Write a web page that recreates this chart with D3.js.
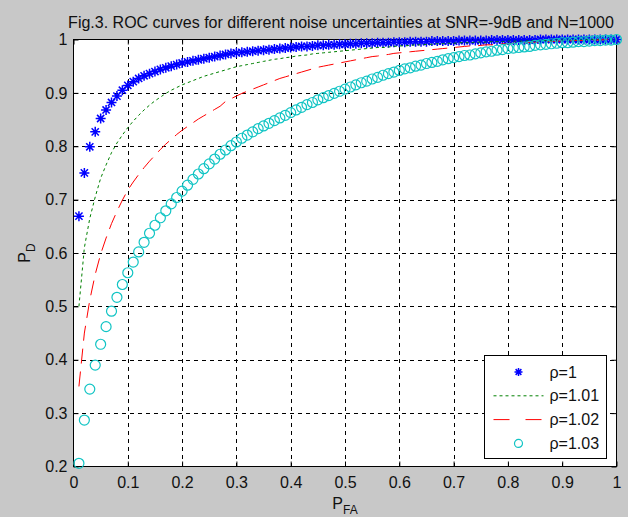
<!DOCTYPE html>
<html>
<head>
<meta charset="utf-8">
<script src="https://cdn.jsdelivr.net/npm/d3@7"></script>
<style>
  body { margin: 0; background: #c8c8c8; }
  svg { display: block; font-family: "Liberation Sans", Arial, sans-serif; }
</style>
</head>
<body>
<div id="chart"></div>
<script>
// false alarm probability, the x of every point
var pfa = [0.01,0.02,0.03,0.04,0.05,0.06,0.07,0.08,0.09,0.10,
  0.11,0.12,0.13,0.14,0.15,0.16,0.17,0.18,0.19,0.20,
  0.21,0.22,0.23,0.24,0.25,0.26,0.27,0.28,0.29,0.30,
  0.31,0.32,0.33,0.34,0.35,0.36,0.37,0.38,0.39,0.40,
  0.41,0.42,0.43,0.44,0.45,0.46,0.47,0.48,0.49,0.50,
  0.51,0.52,0.53,0.54,0.55,0.56,0.57,0.58,0.59,0.60,
  0.61,0.62,0.63,0.64,0.65,0.66,0.67,0.68,0.69,0.70,
  0.71,0.72,0.73,0.74,0.75,0.76,0.77,0.78,0.79,0.80,
  0.81,0.82,0.83,0.84,0.85,0.86,0.87,0.88,0.89,0.90,
  0.91,0.92,0.93,0.94,0.95,0.96,0.97,0.98,0.99,1.00];

// detection probability, rho = 1
var pdRho100 = [0.669,0.750,0.799,0.827,0.852,0.868,0.882,0.894,0.905,0.914,
  0.921,0.927,0.932,0.936,0.940,0.944,0.947,0.950,0.953,0.956,
  0.958,0.960,0.962,0.964,0.966,0.968,0.970,0.972,0.974,0.975,
  0.976,0.977,0.978,0.979,0.980,0.981,0.982,0.983,0.984,0.985,
  0.986,0.987,0.987,0.988,0.989,0.989,0.990,0.990,0.991,0.991,
  0.992,0.992,0.993,0.993,0.993,0.994,0.994,0.994,0.995,0.995,
  0.995,0.996,0.996,0.996,0.996,0.997,0.997,0.997,0.997,0.997,
  0.998,0.998,0.998,0.998,0.998,0.998,0.999,0.999,0.999,0.999,
  0.999,0.999,0.999,0.999,0.999,1.000,1.000,1.000,1.000,1.000,
  1.000,1.000,1.000,1.000,1.000,1.000,1.000,1.000,1.000,1.000];

// rho = 1.01
var pdRho101 = [0.500,0.610,0.665,0.705,0.740,0.765,0.788,0.806,0.821,0.835,
  0.847,0.858,0.868,0.877,0.885,0.892,0.899,0.905,0.910,0.915,
  0.919,0.923,0.927,0.931,0.934,0.937,0.940,0.943,0.946,0.949,
  0.951,0.953,0.955,0.957,0.959,0.961,0.963,0.964,0.966,0.967,
  0.969,0.970,0.971,0.973,0.974,0.975,0.976,0.977,0.978,0.979,
  0.980,0.981,0.982,0.983,0.984,0.985,0.985,0.986,0.987,0.988,
  0.988,0.989,0.990,0.990,0.991,0.991,0.992,0.992,0.993,0.993,
  0.994,0.994,0.994,0.995,0.995,0.995,0.996,0.996,0.996,0.997,
  0.997,0.997,0.997,0.998,0.998,0.998,0.998,0.998,0.999,0.999,
  0.999,0.999,0.999,0.999,1.000,1.000,1.000,1.000,1.000,1.000];

// rho = 1.02
var pdRho102 = [0.350,0.450,0.512,0.560,0.598,0.628,0.655,0.678,0.699,0.718,
  0.733,0.747,0.760,0.772,0.783,0.794,0.804,0.813,0.822,0.830,
  0.837,0.844,0.851,0.857,0.863,0.869,0.875,0.884,0.889,0.894,
  0.899,0.903,0.907,0.911,0.915,0.919,0.923,0.927,0.930,0.933,
  0.936,0.939,0.942,0.945,0.948,0.950,0.952,0.954,0.956,0.958,
  0.960,0.962,0.964,0.966,0.968,0.969,0.971,0.972,0.974,0.975,
  0.976,0.977,0.978,0.979,0.980,0.981,0.982,0.983,0.984,0.985,
  0.986,0.987,0.988,0.988,0.989,0.990,0.990,0.991,0.992,0.992,
  0.993,0.993,0.994,0.994,0.995,0.995,0.996,0.996,0.997,0.997,
  0.997,0.998,0.998,0.998,0.999,0.999,0.999,1.000,1.000,1.000];

// rho = 1.03
var pdRho103 = [0.206,0.287,0.345,0.390,0.429,0.462,0.491,0.517,0.541,0.563,
  0.583,0.602,0.620,0.637,0.652,0.666,0.679,0.692,0.704,0.716,
  0.727,0.738,0.748,0.758,0.767,0.776,0.785,0.793,0.801,0.808,
  0.815,0.821,0.827,0.833,0.838,0.843,0.848,0.853,0.858,0.863,
  0.868,0.873,0.878,0.882,0.887,0.891,0.895,0.899,0.903,0.907,
  0.911,0.915,0.919,0.922,0.926,0.929,0.933,0.936,0.939,0.942,
  0.945,0.947,0.950,0.952,0.955,0.957,0.959,0.962,0.964,0.966,
  0.968,0.970,0.971,0.973,0.975,0.977,0.978,0.980,0.981,0.983,
  0.984,0.985,0.986,0.987,0.989,0.990,0.991,0.992,0.993,0.994,
  0.994,0.995,0.996,0.996,0.997,0.998,0.998,0.999,0.999,1.000];

var seriesNames = ["\u03c1=1", "\u03c1=1.01", "\u03c1=1.02", "\u03c1=1.03"];
var xTicks = [0,0.1,0.2,0.3,0.4,0.5,0.6,0.7,0.8,0.9,1];
var yTicks = [0.2,0.3,0.4,0.5,0.6,0.7,0.8,0.9,1];
var title = "Fig.3. ROC curves for different noise uncertainties at SNR=-9dB and N=1000";

var width = 628, height = 517;
var margin = {top: 39.5, right: 11.5, bottom: 50.5, left: 73.5};

var svg = d3.select("#chart").append("svg")
    .attr("width", width).attr("height", height);

svg.append("rect").attr("width", width).attr("height", height).attr("fill", "#c8c8c8");

var x = d3.scaleLinear().domain([0, 1]).range([margin.left, width - margin.right]);
var y = d3.scaleLinear().domain([0.2, 1]).range([height - margin.bottom, margin.top]);

// plot area
svg.append("rect")
    .attr("x", x(0)).attr("y", y(1))
    .attr("width", x(1) - x(0)).attr("height", y(0.2) - y(1))
    .attr("fill", "#fff");

// grid
var grid = svg.append("g").attr("stroke", "#000").attr("stroke-width", 1)
    .attr("stroke-dasharray", "4,4").attr("shape-rendering", "crispEdges");
grid.selectAll(".gx").data(xTicks.slice(1, -1)).enter().append("line")
    .attr("x1", function(d) { return Math.round(x(d)) + 0.5; })
    .attr("x2", function(d) { return Math.round(x(d)) + 0.5; })
    .attr("y1", y(0.2)).attr("y2", y(1));
grid.selectAll(".gy").data(yTicks.slice(1, -1)).enter().append("line")
    .attr("y1", function(d) { return Math.round(y(d)) + 0.5; })
    .attr("y2", function(d) { return Math.round(y(d)) + 0.5; })
    .attr("x1", x(0)).attr("x2", x(1));

// axes, ticks pointing inward
var fmt = d3.format("~g");
var gx = svg.append("g").attr("transform", "translate(0," + y(0.2) + ")")
    .call(d3.axisBottom(x).tickValues(xTicks).tickFormat(fmt).tickSizeInner(-5).tickSizeOuter(0).tickPadding(10));
var gy = svg.append("g").attr("transform", "translate(" + x(0) + ",0)")
    .call(d3.axisLeft(y).tickValues(yTicks).tickFormat(fmt).tickSizeInner(-5).tickSizeOuter(0).tickPadding(6));
var gt = svg.append("g").attr("transform", "translate(0," + y(1) + ")")
    .call(d3.axisTop(x).tickValues(xTicks).tickFormat("").tickSizeInner(-5).tickSizeOuter(0));
var gr = svg.append("g").attr("transform", "translate(" + x(1) + ",0)")
    .call(d3.axisRight(y).tickValues(yTicks).tickFormat("").tickSizeInner(-5).tickSizeOuter(0));

[gx, gy, gt, gr].forEach(function(g) {
    g.select(".domain").remove();
    g.selectAll("text").attr("font-size", 16).attr("font-family", "Liberation Sans, Arial, sans-serif").attr("fill", "#111");
    g.selectAll("line").attr("stroke", "#000");
});

svg.append("rect")
    .attr("x", x(0)).attr("y", y(1))
    .attr("width", x(1) - x(0)).attr("height", y(0.2) - y(1))
    .attr("fill", "none").attr("stroke", "#000").attr("stroke-width", 1);

// curves
var line = d3.line()
    .x(function(d) { return x(d[0]); })
    .y(function(d) { return y(d[1]); });

function pairs(vals) { return pfa.map(function(p, i) { return [p, vals[i]]; }); }

var starPath = function(s) {
    var k = s * 0.72;
    return "M" + (-s) + ",0H" + s + "M0," + (-s) + "V" + s +
        "M" + (-k) + "," + (-k) + "L" + k + "," + k +
        "M" + (-k) + "," + k + "L" + k + "," + (-k);
};

var plot = svg.append("g");

// rho = 1 : blue stars
plot.append("g").selectAll("path").data(pairs(pdRho100)).enter().append("path")
    .attr("transform", function(d) { return "translate(" + x(d[0]) + "," + y(d[1]) + ")"; })
    .attr("d", starPath(5))
    .attr("stroke", "#0000ff").attr("stroke-width", 1.5).attr("fill", "none");

// rho = 1.01 : green dotted
plot.append("path").datum(pairs(pdRho101))
    .attr("d", line).attr("fill", "none")
    .attr("stroke", "#008000").attr("stroke-width", 1).attr("stroke-dasharray", "3,3");

// rho = 1.02 : red dashed
plot.append("path").datum(pairs(pdRho102))
    .attr("d", line).attr("fill", "none")
    .attr("stroke", "#ff0000").attr("stroke-width", 1).attr("stroke-dasharray", "15,8");

// rho = 1.03 : cyan circles
plot.append("g").selectAll("circle").data(pairs(pdRho103)).enter().append("circle")
    .attr("cx", function(d) { return x(d[0]); })
    .attr("cy", function(d) { return y(d[1]); })
    .attr("r", 5)
    .attr("stroke", "#10c4c4").attr("stroke-width", 1.2).attr("fill", "none");

// title and axis labels
svg.append("text")
    .attr("x", 341).attr("y", 28)
    .attr("text-anchor", "middle").attr("font-size", 16).attr("fill", "#111")
    .text(title);

var xl = svg.append("text")
    .attr("x", (x(0) + x(1)) / 2).attr("y", 509)
    .attr("text-anchor", "middle").attr("font-size", 16).attr("fill", "#111");
xl.append("tspan").text("P");
xl.append("tspan").attr("dy", 5).attr("font-size", 12).text("FA");

var yl = svg.append("text")
    .attr("transform", "translate(30," + (y(0.2) + y(1)) / 2 + ") rotate(-90)")
    .attr("text-anchor", "middle").attr("font-size", 16).attr("fill", "#111");
yl.append("tspan").text("P");
yl.append("tspan").attr("dy", 5).attr("font-size", 12).text("D");

// legend
var lg = svg.append("g").attr("transform", "translate(484.5,355.5)");
lg.append("rect").attr("width", 122).attr("height", 103)
    .attr("fill", "#fff").attr("stroke", "#000");

var rowY = function(i) { return 16.5 + i * 23.8; };
var items = lg.selectAll(".item").data(seriesNames).enter().append("g")
    .attr("transform", function(d, i) { return "translate(0," + rowY(i) + ")"; });

items.append("text").attr("x", 65).attr("dy", "0.35em").attr("font-size", 16).attr("fill", "#111")
    .text(function(d) { return d; });

items.filter(function(d, i) { return i === 0; }).append("path")
    .attr("transform", "translate(34,0)").attr("d", starPath(4))
    .attr("stroke", "#0000ff").attr("stroke-width", 1.5).attr("fill", "none");
items.filter(function(d, i) { return i === 1; }).append("line")
    .attr("x1", 9).attr("x2", 59)
    .attr("stroke", "#008000").attr("stroke-dasharray", "3,3");
items.filter(function(d, i) { return i === 2; }).append("line")
    .attr("x1", 9).attr("x2", 59)
    .attr("stroke", "#ff0000").attr("stroke-dasharray", "16,16");
items.filter(function(d, i) { return i === 3; }).append("circle")
    .attr("cx", 34).attr("r", 4)
    .attr("stroke", "#10c4c4").attr("stroke-width", 1.2).attr("fill", "none");
</script>
</body>
</html>
